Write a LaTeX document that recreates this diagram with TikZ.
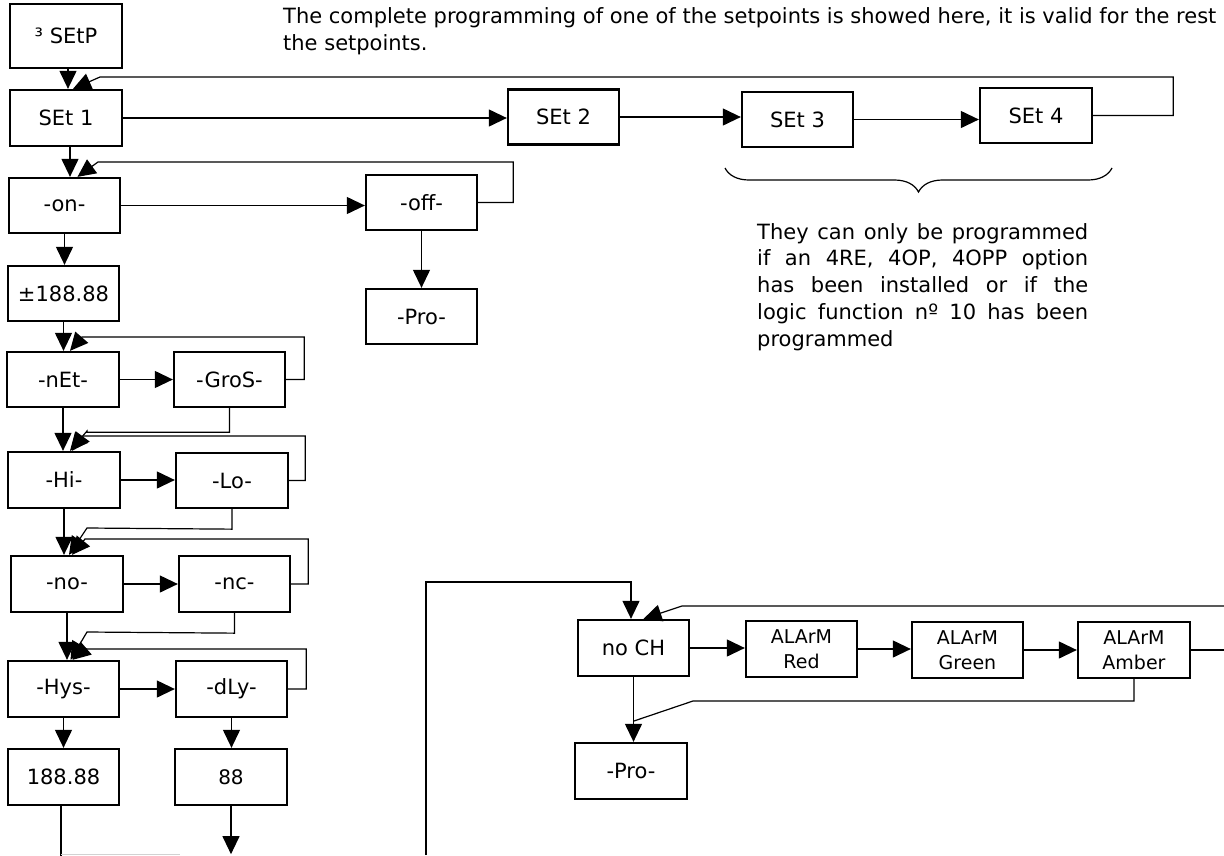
\documentclass[tikz,border=0pt]{standalone}
\usepackage{fontspec}
\setmainfont{DejaVu Sans}
\usetikzlibrary{arrows.meta,calc,decorations.pathreplacing}
\begin{document}
\begin{tikzpicture}[x=1pt,y=-1pt,
  bx/.style={draw,line width=2.3pt,inner sep=0pt,minimum width=111pt,minimum height=55pt,font=\fontsize{21}{26}\selectfont},
  al/.style={bx,align=center,font=\fontsize{19}{25}\selectfont},
  arr/.style={line width=1.2pt,-{Triangle[length=18pt,width=17pt]}},
  ln/.style={line width=1.2pt}]
\useasboundingbox (0,0) rectangle (1224,855);
% nodes
\node[bx,minimum width=112pt,minimum height=64pt] (setp) at (66,36) {³ SEtP};
\node[bx,minimum width=112pt,minimum height=56pt] (set1) at (66,118) {SEt 1};
\node[bx] (set2) at (563.5,117) {SEt 2};
\node[bx] (set3) at (797.5,119.5) {SEt 3};
\node[bx,minimum width=112pt] (set4) at (1036,115.5) {SEt 4};
\node[bx] (on) at (64.5,205.5) {-on-};
\node[bx] (off) at (421.5,202.5) {-off-};
\node[bx] (pro1) at (421.5,316.5) {-Pro-};
\node[bx] (pm) at (63.5,293.5) {±188.88};
\node[bx,minimum width=112pt] (net) at (63,379.5) {-nEt-};
\node[bx] (gros) at (229.5,379.5) {-GroS-};
\node[bx,minimum width=112pt,minimum height=56pt] (hi) at (64,480) {-Hi-};
\node[bx,minimum width=112pt] (lo) at (232,480.5) {-Lo-};
\node[bx,minimum width=112pt,minimum height=56pt] (no) at (67,584) {-no-};
\node[bx,minimum height=56pt] (nc) at (234.5,584) {-nc-};
\node[bx,minimum height=56pt] (hys) at (63.5,689) {-Hys-};
\node[bx,minimum height=56pt] (dly) at (231.5,689) {-dLy-};
\node[bx,minimum height=56pt] (h188) at (63.5,777) {188.88};
\node[bx,minimum width=112pt,minimum height=56pt,font=\fontsize{20}{24}\selectfont] (b88) at (231,777) {88};
\node[bx,minimum height=56pt] (noch) at (633.5,648) {no CH};
\node[al,minimum height=56pt] (red) at (801.5,649) {ALArM\\Red};
\node[al,minimum height=56pt] (green) at (967.5,650) {ALArM\\Green};
\node[al,minimum width=112pt,minimum height=56pt] (amber) at (1134,650) {ALArM\\Amber};
\node[bx,minimum width=112pt,minimum height=56pt] (pro2) at (631,771) {-Pro-};
% texts
\node[anchor=north west,inner sep=0pt,align=left,font=\fontsize{21}{27}\selectfont] (title) at (283,7)
  {The complete programming of one of the setpoints is showed here, it is valid for the rest\\the setpoints.};
\node[anchor=north west,inner sep=0pt,align=left,font=\fontsize{21}{26.75}\selectfont] (note) at (757,223)
  {\makebox[331pt][s]{They can only be programmed}\\
   \makebox[331pt][s]{if an 4RE, 4OP, 4OPP option}\\
   \makebox[331pt][s]{has been installed or if the}\\
   \makebox[331pt][s]{logic function nº 10 has been}\\
   programmed};
\draw[ln,decorate,decoration={brace,amplitude=24pt}] (1112,168) -- (725,168);
% top chain
\coordinate (a1) at ($(setp.south)+(2,0)$);
\draw[arr] (a1) -- (a1 |- set1.north);
\draw[arr] (set4.east) -- ++(80,0) |- (100,77) -- ($(set1.north)+(7,0)$);
\draw[arr] (set1.east) -- (set1.east -| set2.west);
\draw[arr] (set2.east) -- (set2.east -| set3.west);
\draw[arr] (set3.east) -- (set3.east -| set4.west);
% on / off
\coordinate (a2) at ($(set1.south)+(4,0)$);
\draw[arr] (a2) -- (a2 |- on.north);
\draw[arr] (off.east) -- ++(35,0) |- (98,162) -- ($(on.north)+(13,0)$);
\draw[arr] (on.east) -- (on.east -| off.west);
\draw[arr] (off.south) -- (off.south |- pro1.north);
\draw[arr] (on.south) -- (on.south |- pm.north);
\draw[arr] (pm.south) -- (pm.south |- net.north);
% net / gros
\draw[arr] (gros.east) -- ++(18,0) |- (82,337) -- ($(net.north)+(7,0)$);
\draw[arr] (net.east) -- (net.east -| gros.west);
\draw[arr] (net.south) -- (net.south |- hi.north);
\draw[arr] (gros.south) -- ++(0,24) -| (87,431) -- ($(hi.north)+(6,0)$);
% hi / lo
\draw[arr] (lo.east) -- ++(16,0) |- (83,436) -- ($(hi.north)+(8,0)$);
\draw[arr] (hi.east) -- (hi.east -| lo.west);
\draw[arr] (hi.south) -- (hi.south |- no.north);
\draw[arr] (lo.south) -- ++(0,20) -- (87,528) -- ($(no.north)+(2,0)$);
% no / nc
\draw[arr] (nc.east) -- ++(17,0) |- (85,539) -- ($(no.north)+(5,0)$);
\draw[arr] (no.east) -- (no.east -| nc.west);
\draw[arr] (no.south) -- (no.south |- hys.north);
\draw[arr] (nc.south) -- ++(0,20) -- (87,632) -- ($(hys.north)+(7,0)$);
% hys / dly
\draw[arr] (dly.east) -- ++(18,0) |- (85,649) -- ($(hys.north)+(9,0)$);
\draw[arr] (hys.east) -- (hys.east -| dly.west);
\draw[arr] (hys.south) -- (hys.south |- h188.north);
\draw[arr] (dly.south) -- (dly.south |- b88.north);
\draw[ln] ($(h188.south)+(-2.5,0)$) -- ++(0,50);
\draw[gray!35,line width=1pt] (61,854) -- (180,854);
\draw[arr] (b88.south) -- ++(0,48);
% lower right
\coordinate (bl) at (426,855);
\coordinate (c582) at (631,582);
\draw[arr] (bl) |- (c582) -- (c582 |- noch.north);
\coordinate (re1) at (1224,606);
\draw[arr] (re1) -- (682,606) -- ($(noch.north)+(10,0)$);
\draw[arr] (noch.east) -- (noch.east -| red.west);
\draw[arr] (red.east) -- (red.east -| green.west);
\draw[arr] (green.east) -- (green.east -| amber.west);
\coordinate (re2) at (1224,650);
\draw[ln] (amber.east) -- (re2);
\draw[arr] (noch.south) -- (noch.south |- pro2.north);
\coordinate (jn) at ($(noch.south)+(0,44)$);
\draw[ln] (amber.south) |- (693,701) -- (jn);
\end{tikzpicture}
\end{document}
